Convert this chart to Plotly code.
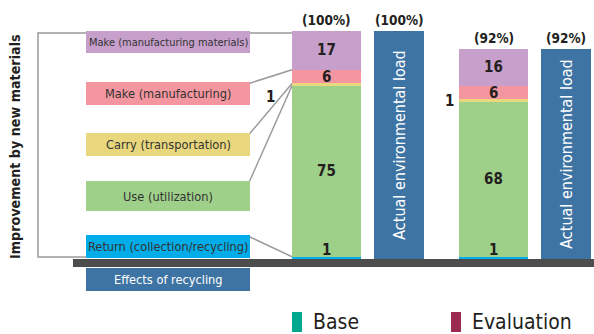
import plotly.graph_objects as go

# Life-cycle stages, bottom to top of the stacked bars
stages = ["Return (collection/recycling)", "Use (utilization)", "Carry (transportation)",
          "Make (manufacturing)", "Make (manufacturing materials)"]
stage_colors = ["#00ADE8", "#9FD08A", "#E8D77C", "#F4969F", "#C79FCB"]

base_load = [1, 75, 1, 6, 17]
eval_load = [1, 68, 1, 6, 16]
actual_load = [100, 92]
total_labels = ["(100%)", "(92%)"]

actual_label = "Actual environmental load"
recycling_label = "Effects of recycling"
yaxis_title = "Improvement by new materials"
legend_names = ["Base", "Evaluation"]
legend_colors = ["#00A88E", "#9B2C50"]

FONT = "DejaVu Sans Condensed, Liberation Sans Narrow, sans-serif"
W, H = 594, 334
BASE_PX, PX_PER = 259, 2.28
YMAX = BASE_PX / PX_PER
YMIN = -(H - BASE_PX) / PX_PER


def py(p):  # pixel row -> paper
    return 1 - p / H


def vy(v):  # data value -> paper
    return (v - YMIN) / (YMAX - YMIN)


stack_x = [326.5, 493.5]
actual_x = [399, 566]

fig = go.Figure()
for i, name in enumerate(stages):
    fig.add_trace(go.Bar(x=stack_x, y=[base_load[i], eval_load[i]], width=69, name=name,
                         marker=dict(color=stage_colors[i], line=dict(width=0)), showlegend=False))
fig.add_trace(go.Bar(x=actual_x, y=actual_load, width=50, marker=dict(color="#3E74A3", line=dict(width=0)),
                     text=[actual_label] * 2, textposition="inside", insidetextanchor="middle",
                     textangle=-90, textfont=dict(family=FONT, size=16, color="white"),
                     constraintext="none", showlegend=False))

shapes = []
ann = []
line_style = dict(color="#9A9A9A", width=1.5)

# bracket and connector lines
shapes.append(dict(type="path", xref="x", yref="paper", line=line_style,
                   path=f"M 292,{py(33)} L 38,{py(33)} L 38,{py(257)} L 86,{py(257)}"))
box_rows = [(235, 258), (181, 211), (133, 156), (82, 105), (31, 53)]
cum = 0
for i, (t, b) in enumerate(box_rows):
    cum += base_load[i]
    if i < 4:
        shapes.append(dict(type="line", xref="x", yref="paper", x0=249, y0=py(t + 1.5),
                           x1=292, y1=vy(cum), line=line_style))

# stage label boxes
for i, (t, b) in enumerate(box_rows):
    shapes.append(dict(type="rect", xref="x", yref="paper", x0=86, x1=250, y0=py(b), y1=py(t),
                       fillcolor=stage_colors[i], line=dict(width=0)))
    ann.append(dict(x=168, y=py((t + b) / 2), xref="x", yref="paper", xanchor="center", yanchor="middle",
                    text=stages[i], showarrow=False,
                    font=dict(family=FONT, size=11 if i == 4 else 12.7, color="#333333")))

shapes.append(dict(type="rect", xref="x", yref="paper", x0=86, x1=250, y0=py(291), y1=py(268),
                   fillcolor="#3E74A3", line=dict(width=0)))
ann.append(dict(x=168, y=py(279.5), xref="x", yref="paper", xanchor="center", yanchor="middle",
                text=recycling_label, showarrow=False, font=dict(family=FONT, size=12.7, color="white")))

# base line
shapes.append(dict(type="rect", xref="x", yref="paper", x0=73, x1=594, y0=py(267), y1=py(259),
                   fillcolor="#4D4D4D", line=dict(width=0)))

# value labels
bold = dict(family=FONT, size=15, color="#231F20")
carry_dx = [-15, -3]
carry_dy = [-12, 0]
for j, vals in enumerate([base_load, eval_load]):
    cum = 0
    for i, v in enumerate(vals):
        mid = cum + v / 2
        cum += v
        if i == 0:
            ann.append(dict(x=stack_x[j], y=0, yanchor="bottom", yshift=-2, text=f"<b>{v}</b>",
                            showarrow=False, font=bold))
        elif i == 2:
            ann.append(dict(x=stack_x[j] - 34.5 + carry_dx[j], y=mid, yshift=carry_dy[j], xanchor="right",
                            text=f"<b>{v}</b>", showarrow=False, font=bold))
        else:
            ann.append(dict(x=stack_x[j], y=mid, text=f"<b>{v}</b>", showarrow=False, font=bold))
    for x in (stack_x[j], actual_x[j]):
        ann.append(dict(x=x, y=actual_load[j], yanchor="bottom", yshift=1, text=f"<b>{total_labels[j]}</b>",
                        showarrow=False, font=dict(family=FONT, size=13.5, color="#231F20")))

ann.append(dict(x=15, y=py(147), xref="x", yref="paper", xanchor="center", yanchor="middle",
                text=f"<b>{yaxis_title}</b>", textangle=-90,
                showarrow=False, font=dict(family=FONT, size=14.2, color="#231F20")))

# legend
for k, (name, col) in enumerate(zip(legend_names, legend_colors)):
    x0 = 292 + k * 159
    shapes.append(dict(type="rect", xref="x", yref="paper", x0=x0, x1=x0 + 10, y0=py(332), y1=py(312),
                       fillcolor=col, line=dict(width=0)))
    ann.append(dict(x=x0 + 19, y=py(322), xref="x", yref="paper", xanchor="left", yanchor="middle",
                    text=name, showarrow=False, font=dict(family=FONT, size=21, color="#231F20")))

fig.update_layout(
    width=W, height=H, margin=dict(l=0, r=0, t=0, b=0),
    paper_bgcolor="white", plot_bgcolor="white",
    barmode="stack", bargap=0,
    xaxis=dict(range=[0, W], visible=False, fixedrange=True),
    yaxis=dict(range=[YMIN, YMAX], visible=False, fixedrange=True),
    shapes=shapes, annotations=ann,
    font=dict(family=FONT),
)

fig.write_html("out.html", config={"displayModeBar": False},
               post_script="document.body.style.margin='0';")
